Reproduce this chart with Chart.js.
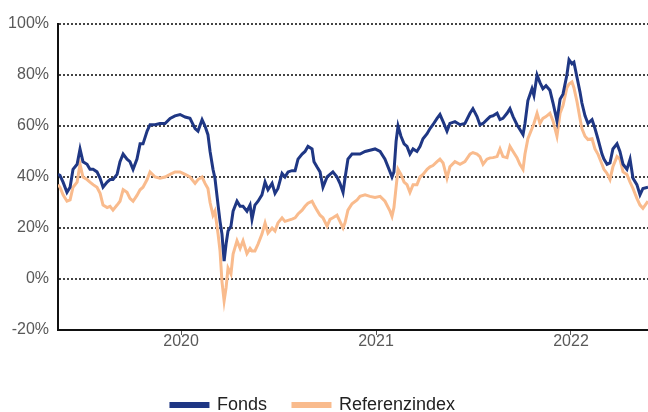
<!DOCTYPE html>
<html lang="de">
<head>
    <meta charset="UTF-8">
    <title>Fonds vs. Referenzindex</title>
    <script src="https://cdn.jsdelivr.net/npm/chart.js"></script>
    <style>
        body {
            margin: 0;
            padding: 0;
            background-color: #ffffff;
        }

        #chart-container {
            width: 648px;
            height: 412px;
        }
    </style>
</head>
<body>

    <div id="chart-container">
        <canvas id="perf-chart"></canvas>
    </div>

    <script>
        // dates as decimal years, one point roughly every 1-2 weeks
        const dates = [
            2019.369, 2019.379, 2019.395, 2019.415, 2019.431, 2019.446, 2019.467, 2019.482, 2019.497, 2019.518,
            2019.533, 2019.549, 2019.569, 2019.585, 2019.600, 2019.621, 2019.636, 2019.651, 2019.672, 2019.687,
            2019.703, 2019.723, 2019.738, 2019.754, 2019.774, 2019.790, 2019.805, 2019.826, 2019.841, 2019.867,
            2019.892, 2019.918, 2019.944, 2019.969, 2019.995, 2020.021, 2020.046, 2020.072, 2020.087, 2020.108,
            2020.123, 2020.138, 2020.149, 2020.164, 2020.174, 2020.190, 2020.200, 2020.210, 2020.221, 2020.231,
            2020.241, 2020.256, 2020.267, 2020.287, 2020.303, 2020.318, 2020.338, 2020.354, 2020.364, 2020.379,
            2020.395, 2020.415, 2020.431, 2020.446, 2020.467, 2020.482, 2020.497, 2020.518, 2020.533, 2020.549,
            2020.569, 2020.585, 2020.600, 2020.621, 2020.636, 2020.651, 2020.672, 2020.682, 2020.697, 2020.713,
            2020.728, 2020.749, 2020.764, 2020.779, 2020.800, 2020.815, 2020.831, 2020.841, 2020.856, 2020.877,
            2020.903, 2020.918, 2020.944, 2020.969, 2020.995, 2021.021, 2021.046, 2021.072, 2021.082, 2021.092,
            2021.103, 2021.113, 2021.128, 2021.144, 2021.159, 2021.174, 2021.190, 2021.210, 2021.226, 2021.241,
            2021.262, 2021.277, 2021.292, 2021.313, 2021.328, 2021.344, 2021.364, 2021.379, 2021.405, 2021.431,
            2021.456, 2021.482, 2021.497, 2021.518, 2021.533, 2021.549, 2021.569, 2021.585, 2021.600, 2021.621,
            2021.636, 2021.651, 2021.672, 2021.687, 2021.703, 2021.723, 2021.738, 2021.754, 2021.764, 2021.779,
            2021.800, 2021.810, 2021.826, 2021.841, 2021.856, 2021.872, 2021.892, 2021.908, 2021.928, 2021.944,
            2021.959, 2021.979, 2021.990, 2022.005, 2022.015, 2022.031, 2022.046, 2022.056, 2022.072, 2022.087,
            2022.108, 2022.123, 2022.138, 2022.159, 2022.169, 2022.185, 2022.200, 2022.215, 2022.236, 2022.251,
            2022.267, 2022.287, 2022.303, 2022.318, 2022.338, 2022.354, 2022.369, 2022.395
        ];

        // cumulative performance in %
        const fonds = [
            41, 40.6, 38, 34, 36, 43, 45, 51, 46, 45,
            43, 43, 42, 39.5, 36, 38, 39, 39, 41, 46,
            49, 47, 46, 43, 47, 53, 53, 58, 60.5, 60.5,
            61, 61, 63, 64, 64.5, 63.5, 63, 59, 58, 62.5,
            60, 56.6, 50, 43, 39.5, 29, 22.6, 17.6, 7, 13.7,
            18.8, 20.7, 26.6, 30.5, 28.5, 28.5, 26.6, 29, 23.4, 29,
            30.5, 33, 38, 35, 37.5, 33.6, 35.5, 41.4, 40, 42,
            42.5, 42.5, 47, 49, 50, 52, 51, 46, 44, 42,
            36, 40, 41, 42, 40, 37.5, 34, 39.5, 47, 49,
            49, 49, 50, 50.5, 51, 50, 47, 42, 40, 42,
            54, 60, 56, 53, 52, 49, 51, 50, 52, 55,
            57, 59, 60.5, 63, 64.5, 61.7, 58, 61, 61.7, 60.5,
            61, 65, 66.8, 63.7, 60.5, 61, 62.5, 63.7, 64, 65,
            62.5, 63, 65, 66.8, 63.7, 60.5, 58.6, 56.6, 61, 70,
            74.6, 72, 80, 77, 74.6, 75.8, 74, 69, 62, 70.5,
            72.5, 80, 86, 84.4, 85, 79, 73.4, 69, 64, 61,
            62.5, 59, 55, 49, 47, 45, 45.5, 51, 53, 50,
            45, 43, 47, 39.5, 37, 33, 35.5, 36
        ];

        const referenz = [
            37, 36, 33, 30.5, 31, 36, 38, 45, 40, 39,
            38, 37, 36, 33.6, 29, 28, 28.5, 27, 29, 30.5,
            35, 34, 31.6, 30.5, 32.8, 35, 36, 39, 42, 40,
            39.5, 40, 41, 42, 42, 41, 40, 37.5, 39, 40,
            37.5, 35.5, 30, 25, 26.6, 17.6, 11, -1, -8.6, -3.5,
            4.3, 2, 9.8, 15, 12, 15, 10, 12, 11, 11,
            13.7, 17.6, 22, 18, 20, 18.8, 22, 24, 22.6, 23,
            23.5, 24, 25.5, 27, 28.5, 29.7, 30.5, 29, 27, 25,
            24, 20.7, 23.4, 24, 25, 22.6, 20, 22, 27, 29.5,
            31, 32.4, 33, 32.4, 32, 32.4, 30.5, 26.6, 24.6, 28,
            36, 43, 41, 38, 37, 34, 37, 37, 40, 41,
            43, 44, 44.5, 46, 47, 45.5, 39.5, 44, 46, 45,
            46, 49, 49.6, 49, 48, 45, 47, 47.5, 47.6, 48,
            51, 48, 47.6, 52, 50, 47.6, 45, 43, 49, 55,
            59, 61, 65, 61, 63, 63.7, 65, 62, 56, 65,
            68, 75, 76.5, 77.3, 75, 69.5, 63, 59, 56, 54.7,
            55, 51, 49, 45, 43, 41.4, 39, 44, 48, 47,
            42, 41, 38, 35.5, 31.6, 29, 27.7, 30.5
        ];

        const yearTicks = [2020, 2021, 2022];
        const yTicks = [-20, 0, 20, 40, 60, 80, 100];

        const toPoints = (values) => values.map((v, i) => ({ x: dates[i], y: v }));

        // nudge the legend a bit left and down, like the original layout
        const legendShift = {
            id: 'legendShift',
            afterLayout(chart) {
                const lg = chart.legend;
                lg.left -= 11;
                lg.right -= 11;
                lg.top += 12;
                lg.bottom += 12;
            }
        };

        const chartCanvas = document.getElementById('perf-chart');
        const axisFont = { family: 'Liberation Sans, Arial, sans-serif', size: 16 };

        new Chart(chartCanvas, {
            type: 'line',
            data: {
                datasets: [{
                    label: 'Fonds',
                    data: toPoints(fonds),
                    borderColor: '#1f3784',
                    backgroundColor: '#1f3784',
                    borderWidth: 3,
                    pointRadius: 0,
                    tension: 0
                }, {
                    label: 'Referenzindex',
                    data: toPoints(referenz),
                    borderColor: '#f9bb8d',
                    backgroundColor: '#f9bb8d',
                    borderWidth: 3,
                    pointRadius: 0,
                    tension: 0
                }]
            },
            plugins: [legendShift],
            options: {
                responsive: true,
                maintainAspectRatio: false,
                animation: false,
                layout: {
                    padding: { top: 24, right: 0, bottom: 0, left: 0 }
                },
                plugins: {
                    legend: {
                        display: true,
                        position: 'bottom',
                        labels: {
                            boxWidth: 37,
                            boxHeight: 3,
                            padding: 26,
                            color: '#222',
                            font: { family: 'Liberation Sans, Arial, sans-serif', size: 18 }
                        }
                    },
                    tooltip: { enabled: false }
                },
                scales: {
                    x: {
                        type: 'linear',
                        min: dates[0],
                        max: dates[dates.length - 1],
                        afterBuildTicks: (scale) => {
                            scale.ticks = yearTicks.map(v => ({ value: v }));
                        },
                        afterFit: (scale) => {
                            scale.height = 28;
                        },
                        ticks: {
                            color: '#595959',
                            padding: -3,
                            font: axisFont,
                            callback: (v) => String(v)
                        },
                        grid: {
                            drawOnChartArea: false,
                            drawTicks: true,
                            tickLength: 5,
                            tickColor: '#555'
                        },
                        border: {
                            display: true,
                            color: '#111',
                            width: 2
                        }
                    },
                    y: {
                        min: -20,
                        max: 100,
                        afterBuildTicks: (scale) => {
                            scale.ticks = yTicks.map(v => ({ value: v }));
                        },
                        afterFit: (scale) => {
                            scale.width = 58;
                        },
                        ticks: {
                            color: '#595959',
                            padding: 9,
                            font: axisFont,
                            callback: (v) => v + '%'
                        },
                        grid: {
                            drawTicks: false,
                            color: '#444',
                            lineWidth: 2
                        },
                        border: {
                            display: true,
                            color: '#111',
                            width: 2,
                            dash: [2, 2]
                        }
                    }
                }
            }
        });
    </script>

</body>
</html>
